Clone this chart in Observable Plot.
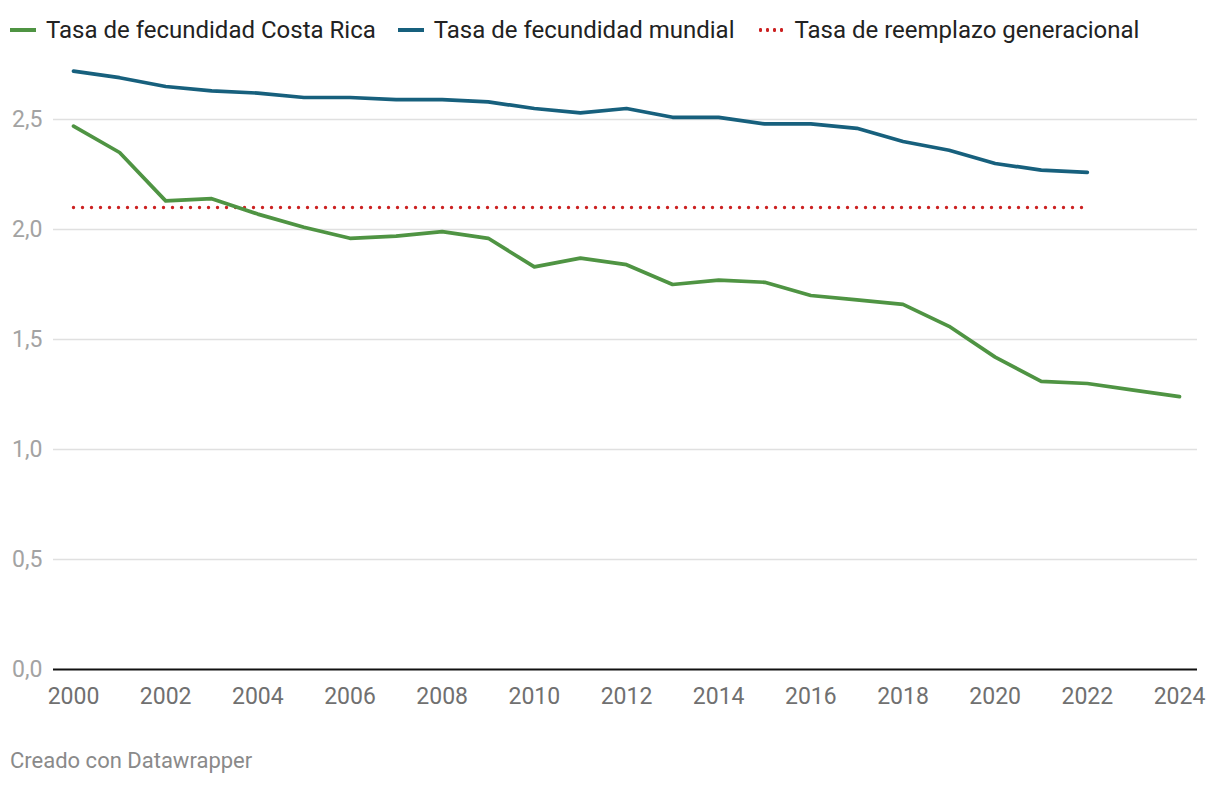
<!DOCTYPE html>
<html>
<head>
<meta charset="utf-8">
<script src="https://cdn.jsdelivr.net/npm/d3@7"></script>
<script src="https://cdn.jsdelivr.net/npm/@observablehq/plot@0.6"></script>
<style>
  html, body { margin: 0; padding: 0; background: #fff; }
  body { width: 1220px; height: 786px; font-family: Roboto, "Noto Sans", sans-serif; position: relative; }
  #legend { position: absolute; left: 10px; top: 16px; display: flex; align-items: center; font-size: 24px; color: #222; white-space: nowrap; }
  .item { display: flex; align-items: center; margin-right: 22px; }
  .sw { width: 26px; height: 0; margin-right: 10px; }
  #chart { position: absolute; left: 0; top: 50px; }
  #caption { position: absolute; left: 10px; top: 748px; font-size: 22px; color: #8a8a8a; }
</style>
</head>
<body>
<div id="legend"></div>
<div id="chart"></div>
<div id="caption">Creado con Datawrapper</div>
<script>
const years = [2000,2001,2002,2003,2004,2005,2006,2007,2008,2009,2010,2011,2012,2013,2014,2015,2016,2017,2018,2019,2020,2021,2022,2023,2024];
const costaRica = [2.47,2.35,2.13,2.14,2.07,2.01,1.96,1.97,1.99,1.96,1.83,1.87,1.84,1.75,1.77,1.76,1.70,1.68,1.66,1.56,1.42,1.31,1.30,1.27,1.24];
const worldYears = [2000,2001,2002,2003,2004,2005,2006,2007,2008,2009,2010,2011,2012,2013,2014,2015,2016,2017,2018,2019,2020,2021,2022];
const world = [2.72,2.69,2.65,2.63,2.62,2.60,2.60,2.59,2.59,2.58,2.55,2.53,2.55,2.51,2.51,2.48,2.48,2.46,2.40,2.36,2.30,2.27,2.26];
const replacementYears = [2000,2022];
const replacement = [2.1,2.1];
const yTicks = [0,0.5,1,1.5,2,2.5];
const xTicks = [2000,2002,2004,2006,2008,2010,2012,2014,2016,2018,2020,2022,2024];
const seriesNames = ["Tasa de fecundidad Costa Rica","Tasa de fecundidad mundial","Tasa de reemplazo generacional"];
const colors = ["#4f9443","#17607d","#cc2222"];

const crData = years.map((y,i)=>({year:y, v:costaRica[i]}));
const wData = worldYears.map((y,i)=>({year:y, v:world[i]}));
const rData = replacementYears.map((y,i)=>({year:y, v:replacement[i]}));

// legend
const leg = document.getElementById("legend");
seriesNames.forEach((n,i)=>{
  const it = document.createElement("div"); it.className="item";
  const sw = document.createElement("div"); sw.className="sw";
  if (i<2) { sw.style.borderTop = "4px solid " + colors[i]; }
  else {
    sw.style.height="4px";
    sw.style.backgroundImage = `radial-gradient(circle, ${colors[i]} 1.7px, transparent 2px)`;
    sw.style.backgroundSize = "7px 4px";
    sw.style.width = "28px";
  }
  const t = document.createElement("span"); t.textContent = n;
  it.appendChild(sw); it.appendChild(t); leg.appendChild(it);
});

const fmt = d => d.toFixed(1).replace(".", ",");
const chart = Plot.plot({
  width: 1220,
  height: 690,
  marginLeft: 53,
  marginRight: 23,
  marginTop: 69,
  marginBottom: 71,
  insetLeft: 20,
  insetRight: 18,
  style: {fontFamily: "Roboto, sans-serif", fontSize: "23px", background: "#fff", overflow: "visible"},
  x: {domain: [2000, 2024], ticks: xTicks, tickFormat: d => String(d), label: null},
  y: {domain: [0, 2.5], ticks: yTicks, tickFormat: fmt, label: null},
  marks: [
    Plot.ruleY(yTicks.filter(d=>d>0), {stroke: "#e0e0e0", strokeWidth: 1.5}),
    Plot.axisY(yTicks, {tickSize: 0, tickPadding: 11, tickFormat: fmt, fill: "#a3a3a3", fontSize: 23, label: null}),
    Plot.axisX(xTicks, {tickSize: 0, tickPadding: 18, tickFormat: d => String(d), fill: "#707070", fontSize: 23, label: null}),
    Plot.ruleY([0], {stroke: "#111", strokeWidth: 2}),
    Plot.line(rData, {x: "year", y: "v", stroke: colors[2], strokeWidth: 3.4, strokeDasharray: "0,9", strokeLinecap: "round"}),
    Plot.line(wData, {x: "year", y: "v", stroke: colors[1], strokeWidth: 3.7, strokeLinecap: "round"}),
    Plot.line(crData, {x: "year", y: "v", stroke: colors[0], strokeWidth: 3.7, strokeLinecap: "round"})
  ]
});
document.getElementById("chart").appendChild(chart);
</script>
</body>
</html>
